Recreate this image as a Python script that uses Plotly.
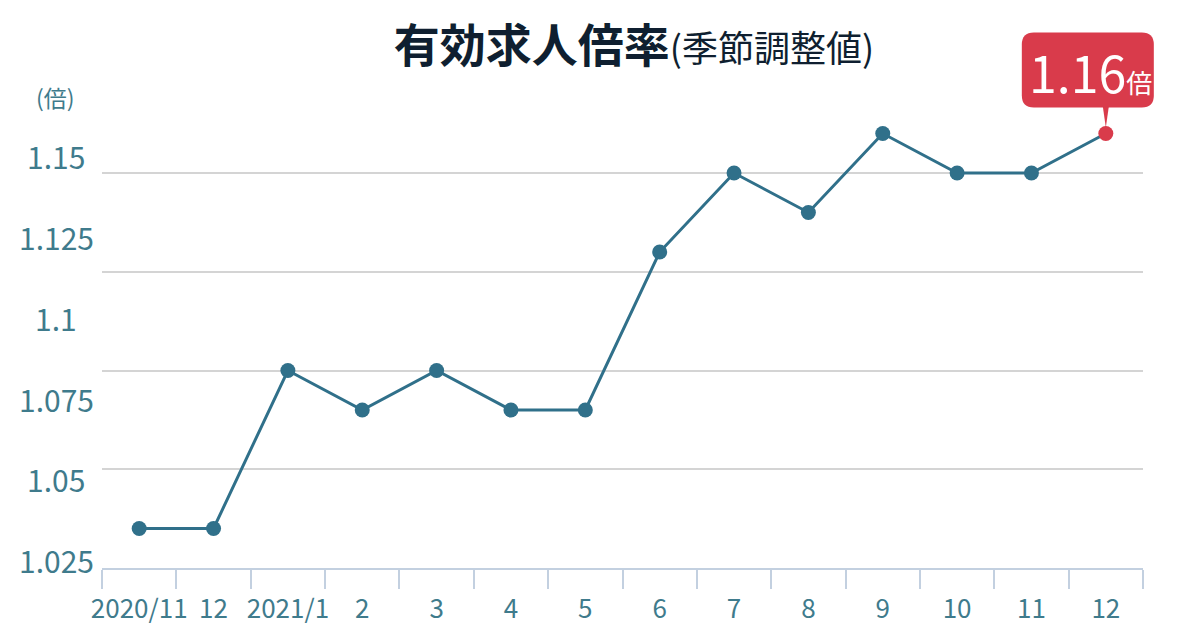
import plotly.graph_objects as go

# ---- data ----
month_keys = ["2020/11", "2020/12", "2021/1", "2021/2", "2021/3", "2021/4", "2021/5",
              "2021/6", "2021/7", "2021/8", "2021/9", "2021/10", "2021/11", "2021/12"]
month_labels = ["2020/11", "12", "2021/1", "2", "3", "4", "5",
                "6", "7", "8", "9", "10", "11", "12"]
ratio = [1.06, 1.06, 1.10, 1.09, 1.10, 1.09, 1.09,
         1.13, 1.15, 1.14, 1.16, 1.15, 1.15, 1.16]
grid_vals = [1.05, 1.075, 1.10, 1.125, 1.15]
label_vals = [1.025, 1.05, 1.075, 1.10, 1.125, 1.15]
label_text = ["1.025", "1.05", "1.075", "1.1", "1.125", "1.15"]

FONT = "Noto Sans CJK JP"
LINE = "#30708a"
RED = "#d93b4b"
TEAL = "#3f7b8c"
AXIS = "#c3d0e0"

marker_colors = [LINE] * (len(ratio) - 1) + [RED]
n = len(month_keys)

fig = go.Figure()
fig.add_trace(go.Scatter(
    x=month_keys, y=ratio, mode="lines+markers",
    line=dict(color=LINE, width=3),
    marker=dict(size=15, color=marker_colors),
    hoverinfo="skip", showlegend=False, cliponaxis=False,
))
# helper trace so the label axis exists
fig.add_trace(go.Scatter(x=[month_keys[0]], y=[None], yaxis="y2",
                         mode="markers", showlegend=False, hoverinfo="skip"))

fig.update_layout(
    width=1200, height=630,
    margin=dict(l=102, r=57, t=28, b=62, autoexpand=False),
    paper_bgcolor="white", plot_bgcolor="white",
    font=dict(family=FONT, color=TEAL),
    title=dict(
        text="<b>有効求人倍率</b><span style='font-size:36px'>(季節調整値)</span>",
        font=dict(family=FONT, size=46, color="#0f1f30"),
        x=634 / 1200, xanchor="center", xref="container",
        y=1 - 46 / 630, yanchor="middle", yref="container",
        automargin=False,
    ),
    xaxis=dict(
        type="category", range=[-0.5, n - 0.5],
        tickmode="array", tickvals=month_keys, ticktext=month_labels,
        tickson="boundaries", ticks="outside", ticklen=19, tickwidth=2,
        tickcolor=AXIS, showline=True, linecolor=AXIS, linewidth=2,
        showgrid=False, zeroline=False, tickangle=0, automargin=False,
        ticklabelstandoff=17,
        tickfont=dict(family=FONT, size=26, color=TEAL),
    ),
    yaxis=dict(
        range=[1.05, 1.05 + 540 / 3950], tickmode="array", tickvals=grid_vals,
        showticklabels=False, showgrid=True, gridcolor="#d4d4d4", gridwidth=1.5,
        zeroline=False, ticks="", automargin=False,
    ),
    yaxis2=dict(
        overlaying="y", side="left", range=[1.0225, 1.1898],
        showticklabels=False, showgrid=False, zeroline=False, showline=False,
        ticks="", automargin=False,
    ),
)

for v, t in zip(label_vals, label_text):
    fig.add_annotation(
        x=(56 - 102) / 1041, xref="paper", xanchor="center",
        y=v, yref="y2", yanchor="middle",
        text=t, showarrow=False,
        font=dict(family=FONT, size=30, color=TEAL),
    )

fig.add_annotation(
    x=(55 - 102) / 1041, xref="paper", xanchor="center",
    y=1 - (97 - 28) / 540, yref="paper", yanchor="middle",
    text="(倍)", showarrow=False,
    font=dict(family=FONT, size=23, color=TEAL),
)

# callout on last point (x anchored at the last category's centre within the x domain)
last_x, last_y = month_keys[-1], ratio[-1]
last_dom = (n - 0.5) / n
box_path = ("M -72,26 L 36,26 Q 48,26 48,38 L 48,89 Q 48,101 36,101 "
            "L -72,101 Q -84,101 -84,89 L -84,38 Q -84,26 -72,26 Z")
fig.add_shape(type="path", xref="x domain", yref="y", xsizemode="pixel", ysizemode="pixel",
              xanchor=last_dom, yanchor=last_y, path=box_path,
              fillcolor=RED, line=dict(width=0), layer="above")
fig.add_shape(type="path", xref="x domain", yref="y", xsizemode="pixel", ysizemode="pixel",
              xanchor=last_dom, yanchor=last_y, path="M -3,27 L 3,27 L 0,6 Z",
              fillcolor=RED, line=dict(width=0), layer="above")
fig.add_annotation(
    x=last_x, y=last_y, xref="x", yref="y", showarrow=False,
    xshift=-15, yshift=63,
    text=f"<span style='font-size:50px'>{last_y:.2f}</span><span style='font-size:26px'>倍</span>",
    font=dict(family=FONT, size=50, color="white"),
)

fig.write_html("out.html", config={"displayModeBar": False},
               post_script="document.body.style.margin='0';")
